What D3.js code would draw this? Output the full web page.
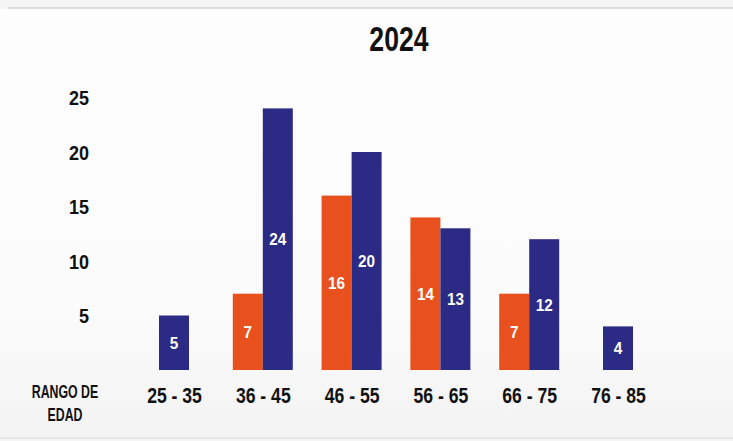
<!DOCTYPE html>
<html><head><meta charset="utf-8">
<script src="https://cdn.jsdelivr.net/npm/d3@7"></script>
<style>
html,body{margin:0;padding:0;background:#f8f8f8;}
svg{display:block;}
text{font-family:"Liberation Sans",Arial,sans-serif;font-weight:bold;}
</style></head><body>
<svg id="c" width="733" height="441"></svg>
<script>
const title = "2024";
const categories = ["25 - 35","36 - 45","46 - 55","56 - 65","66 - 75","76 - 85"];
const seriesOrange = [0,7,16,14,7,0];
const seriesBlue = [5,24,20,13,12,4];
const yTicks = [5,10,15,20,25];
const axisLabel = ["RANGO DE","EDAD"];
const colors = {orange:"#E8501E", blue:"#2B2A84"};

const svg = d3.select("#c");
// background
svg.append("rect").attr("width",733).attr("height",441).attr("fill","#f6f5f5");
const grad = svg.append("defs").append("linearGradient").attr("id","bg").attr("x1",0).attr("x2",0).attr("y1",0).attr("y2",1);
grad.append("stop").attr("offset","0%").attr("stop-color","#fdfdfd");
grad.append("stop").attr("offset","70%").attr("stop-color","#fbfbfb");
grad.append("stop").attr("offset","100%").attr("stop-color","#f4f3f3");
svg.append("rect").attr("x",0).attr("y",9).attr("width",733).attr("height",428).attr("fill","url(#bg)");
svg.append("line").attr("x1",8).attr("x2",733).attr("y1",8).attr("y2",8).attr("stroke","#dedede").attr("stroke-width",2);
svg.append("line").attr("x1",0).attr("x2",733).attr("y1",438).attr("y2",438).attr("stroke","#e6e6e6").attr("stroke-width",2);

const y = d3.scaleLinear().domain([0,25]).range([370,97.5]);
const x = d3.scalePoint().domain(categories).range([174,618]);
const bw = 30;

function ctext(px, py, sx, size, txt, fill, anchor){
  return svg.append("text")
    .attr("transform",`translate(${px},${py}) scale(${sx},1)`)
    .attr("text-anchor",anchor||"middle").attr("font-size",size)
    .attr("fill",fill).text(txt);
}

ctext(399, 51, 0.74, 36, title, "#111");

// y axis labels
const yAxis = d3.axisLeft(y).tickValues(yTicks).tickSize(0).tickPadding(0);
const gy = svg.append("g").attr("transform","translate(89,0)").call(yAxis);
gy.select(".domain").remove();
gy.selectAll("text").attr("font-size",20).attr("fill","#111")
  .style("font-family",'"Liberation Sans",Arial,sans-serif')
  .style("font-weight","bold").attr("dy","0.36em")
  .attr("transform","scale(0.9,1)");

// bars
const data = categories.map((c,i)=>({c, o:seriesOrange[i], b:seriesBlue[i]}));
data.forEach(d=>{
  const cx = x(d.c);
  const bars = [];
  if (d.o>0 && d.b>0){
    bars.push({v:d.o, x:cx-bw, col:colors.orange});
    bars.push({v:d.b, x:cx, col:colors.blue});
  } else if (d.b>0){
    bars.push({v:d.b, x:cx-bw/2, col:colors.blue});
  } else if (d.o>0){
    bars.push({v:d.o, x:cx-bw/2, col:colors.orange});
  }
  bars.forEach(b=>{
    svg.append("rect").attr("x",b.x).attr("y",y(b.v)).attr("width",bw)
      .attr("height",y(0)-y(b.v)).attr("fill",b.col);
    ctext(b.x+bw/2, (y(b.v)+y(0))/2 + 6, 0.9, 17, b.v, "#fff");
  });
});

// x axis labels
const xAxis = d3.axisBottom(x).tickSize(0).tickPadding(0);
const gx = svg.append("g").attr("transform","translate(0,403)").call(xAxis);
gx.select(".domain").remove();
gx.selectAll("text").attr("font-size",22).attr("fill","#111")
  .style("font-family",'"Liberation Sans",Arial,sans-serif')
  .style("font-weight","bold").attr("dy",0).attr("y",0)
  .attr("transform","scale(0.8,1)");

axisLabel.forEach((t,i)=>ctext(65, 398 + i*23, 0.65, 19, t, "#111"));
</script>
</body></html>
